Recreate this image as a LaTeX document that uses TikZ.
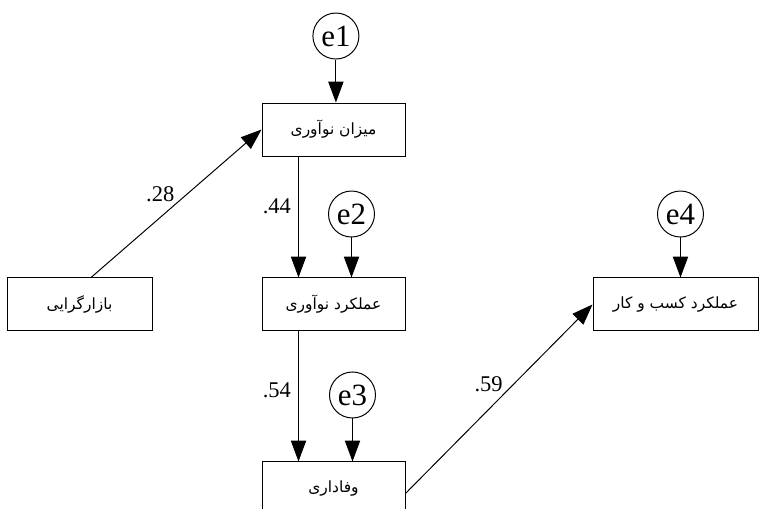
\documentclass[tikz,border=0pt]{standalone}
\usepackage{fontspec}
\setmainfont{Liberation Serif}
\newfontfamily\latinfont{Liberation Serif}
\newfontfamily\farsifont[Script=Arabic]{DejaVu Sans}
\TeXXeTstate=1
\usetikzlibrary{arrows.meta, positioning, calc}

\begin{document}
\begin{tikzpicture}[
    line width=0.7pt,
    box/.style={draw, minimum width=#1, minimum height=1.325cm, inner sep=0pt,
        font=\farsifont\fontsize{11}{13}\selectfont},
    err/.style={draw, circle, minimum size=1.15cm, inner sep=0pt,
        font=\latinfont\fontsize{22}{22}\selectfont},
    arrow/.style={-{Triangle[length=0.52cm, width=0.38cm]}},
    coef/.style={font=\latinfont\fontsize{16}{16}\selectfont, inner sep=1pt}
]
\useasboundingbox (0,0) rectangle (19,-12.7);

% Nodes
\node[box=3.575cm] (innov) at (8.3375,-3.2375) {\beginR میزان نوآوری\endR};
\node[box=3.575cm, below=3.025cm of innov] (perf) {\beginR عملکرد نوآوری\endR};
\node[box=3.575cm, below=3.25cm of perf] (loyal) {\beginR وفاداری\endR};
\node[box=3.625cm, left=2.725cm of perf] (market) {\beginR بازارگرایی\endR};
\node[box=4.125cm, right=4.675cm of perf] (business) {\beginR عملکرد کسب و کار\endR};

% Error terms
\node[err, above=1.075cm of innov.north, xshift=0.06cm] (e1) {e1};
\node[err, above=1cm of perf.north, xshift=0.45cm] (e2) {e2};
\node[err, above=1.075cm of loyal.north, xshift=0.475cm] (e3) {e3};
\node[err, above=1cm of business.north, xshift=0.125cm] (e4) {e4};

% Arrows from error terms
\draw[arrow] (e1) -- (e1 |- innov.north);
\draw[arrow] (e2) -- (e2 |- perf.north);
\draw[arrow] (e3) -- (e3 |- loyal.north);
\draw[arrow] (e4) -- (e4 |- business.north);

% Paths with coefficients
\draw[arrow] ($(market.north)+(0.2875,0)$) -- node[coef, pos=0.5, anchor=south east] {.28} (innov.west);
\draw[arrow] ($(innov.south west)+(0.925,0)$) -- node[coef, pos=0.41, left=4pt] {.44} ($(perf.north west)+(0.925,0)$);
\draw[arrow] ($(perf.south west)+(0.925,0)$) -- node[coef, pos=0.45, left=4pt] {.54} ($(loyal.north west)+(0.925,0)$);
\draw[arrow] ($(loyal.east)+(0,-0.125)$) -- node[coef, pos=0.53, anchor=south east] {.59} (business.west);

\end{tikzpicture}
\end{document}
